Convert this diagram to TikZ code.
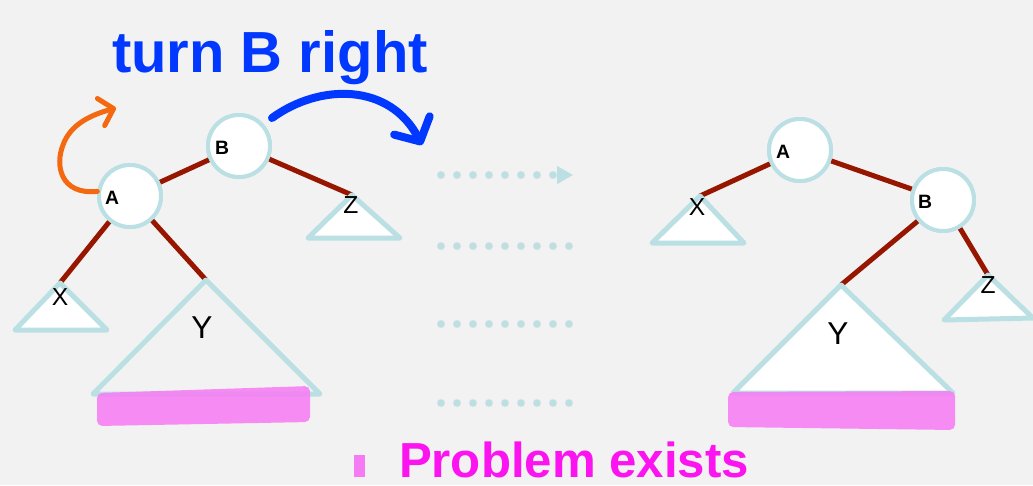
\documentclass[tikz,border=0pt]{standalone}
\usepackage{fontspec}
\setmainfont{Liberation Sans}
\usetikzlibrary{arrows.meta,calc}
\definecolor{rotBg}{RGB}{242,242,242}
\definecolor{rotRing}{RGB}{187,224,228}
\definecolor{rotEdge}{RGB}{150,22,0}
\definecolor{rotPink}{RGB}{246,122,244}
\definecolor{rotMagenta}{RGB}{252,20,240}
\definecolor{rotBlue}{RGB}{0,56,255}
\definecolor{rotOrange}{RGB}{244,104,16}

\begin{document}
\begin{tikzpicture}[x=0.02cm, y=-0.02cm,
    vtx/.style={circle, draw=rotRing, fill=white, line width=0.08cm,
                minimum size=1.24cm, inner sep=0pt},
    vname/.style={font=\bfseries\fontsize{11}{12}\selectfont, inner sep=0pt},
    subtree/.style={draw=rotRing, line width=0.1cm, line join=round},
    subname/.style={font=\fontsize{14}{16}\selectfont, inner sep=0pt},
    bigname/.style={font=\fontsize{18}{20}\selectfont, inner sep=0pt},
    link/.style={rotEdge, line width=0.1cm},
    hilite/.style={fill=rotPink, fill opacity=0.85, rounded corners=3pt},
    dotrow/.style={rotRing, line width=0.14cm, line cap=round,
                   dash pattern=on 0pt off 0.32cm},
    dotshade/.style={black!10, line width=0.17cm, line cap=round,
                     dash pattern=on 0pt off 0.32cm},
    ink/.style={line cap=round, line join=round},
    hand/.style={font=\bfseries\fontsize{33}{38}\selectfont, inner sep=0pt, anchor=base}
  ]
  % background and page size
  \fill[rotBg] (0,0) rectangle (1033,485);
  \useasboundingbox (0,0) rectangle (1033,485);

  % ---- before: left tree ----
  \node[vtx] (lB) at (239,146) {};
  \node[vtx] (lA) at (130,196) {};
  \coordinate (lXtop) at (60,283);
  \coordinate (lYtop) at (206,280);
  \coordinate (lZtop) at (352,195);

  \draw[link] (lA) -- (lB);
  \draw[link] (lB) -- (lZtop);
  \draw[link] (lA) -- (lXtop);
  \draw[link] (lA) -- (lYtop);

  \draw[subtree, fill=white] (lZtop) -- ++(-44,43) -- ++(92,0) -- cycle;
  \draw[subtree, fill=white] (lXtop) -- ++(-45,47) -- ++(92,0) -- cycle;
  \draw[subtree] (lYtop) -- ++(-113,114) -- ++(227,0) -- cycle;

  \node[vtx] at (lB) {};
  \node[vtx] at (lA) {};
  \node[vname] (lBname) at ($(lB)+(-17,2)$) {B};
  \node[vname] (lAname) at ($(lA)+(-18,2)$) {A};
  \node[subname] (lXname) at (60,297) {X};
  \node[subname] (lZname) at (351,205) {Z};
  \node[bigname] (lYname) at (202,328) {Y};

  \fill[hilite] (97,393) -- (310,386) -- (310,422) -- (97,426) -- cycle;

  % ---- after: right tree ----
  \node[vtx] (rA) at (800,150) {};
  \node[vtx] (rB) at (943,200) {};
  \coordinate (rXtop) at (700,196);
  \coordinate (rYtop) at (841,285);
  \coordinate (rZtop) at (988,275);

  \draw[link] (rA) -- (rXtop);
  \draw[link] (rA) -- (rB);
  \draw[link] (rB) -- (rYtop);
  \draw[link] (rB) -- (rZtop);

  \draw[subtree, fill=white] (rXtop) -- ++(-48,47) -- ++(92,0) -- cycle;
  \draw[subtree, fill=white] (rYtop) -- ++(-108,108) -- ++(220,0) -- cycle;
  \draw[subtree, fill=white] (rZtop) -- ++(-44,45) -- ++(89,-2) -- cycle;

  \node[vtx] at (rA) {};
  \node[vtx] at (rB) {};
  \node[vname] (rAname) at ($(rA)+(-17,2)$) {A};
  \node[vname] (rBname) at ($(rB)+(-18,2)$) {B};
  \node[subname] (rXname) at (697,207) {X};
  \node[subname] (rZname) at (988,285) {Z};
  \node[bigname] (rYname) at (838,334) {Y};

  \fill[hilite] (728,392) -- (955,391) -- (955,430) -- (728,427) -- cycle;

  % ---- dotted transition rows ----
  \coordinate (row1a) at (441,175);  \coordinate (row1b) at (573,175);
  \coordinate (row2a) at (441,246);  \coordinate (row2b) at (570,246);
  \coordinate (row3a) at (441,324);  \coordinate (row3b) at (570,324);
  \coordinate (row4a) at (441,403);  \coordinate (row4b) at (570,403);

  \begin{scope}[yshift=-0.11cm]
    \draw[dotshade, -{Triangle[length=0.32cm, width=0.34cm]}] (row1a) -- (row1b);
    \draw[dotshade] (row2a) -- (row2b);
    \draw[dotshade] (row3a) -- (row3b);
    \draw[dotshade] (row4a) -- (row4b);
  \end{scope}
  \draw[dotrow, -{Triangle[length=0.32cm, width=0.34cm]}] (row1a) -- (row1b);
  \draw[dotrow] (row2a) -- (row2b);
  \draw[dotrow] (row3a) -- (row3b);
  \draw[dotrow] (row4a) -- (row4b);

  % ---- handwritten notes ----
  \coordinate (orangeTo) at (116,108);
  \draw[ink, rotOrange, line width=0.1cm,
        -{Straight Barb[length=0.26cm, width=0.56cm, round]}]
    (lA.172) .. controls (60,195) and (55,165) .. (63,145)
             .. controls (70,125) and (90,115) .. (orangeTo);

  \coordinate (blueFrom) at (272,118);
  \coordinate (blueTo) at (422,145);
  \draw[ink, rotBlue, line width=0.16cm,
        -{Straight Barb[length=0.36cm, width=0.8cm, round]}]
    (blueFrom) .. controls (320,83) and (390,83) .. (blueTo);

  \node[hand, rotBlue] (turnNote) at (270,72) {turn B right};

  \fill[rotPink] (354,455) rectangle (365,477);
  \node[hand, rotMagenta, font=\bfseries\fontsize{28}{32}\selectfont] (problemNote) at (574,477) {Problem exists};
\end{tikzpicture}
\end{document}
